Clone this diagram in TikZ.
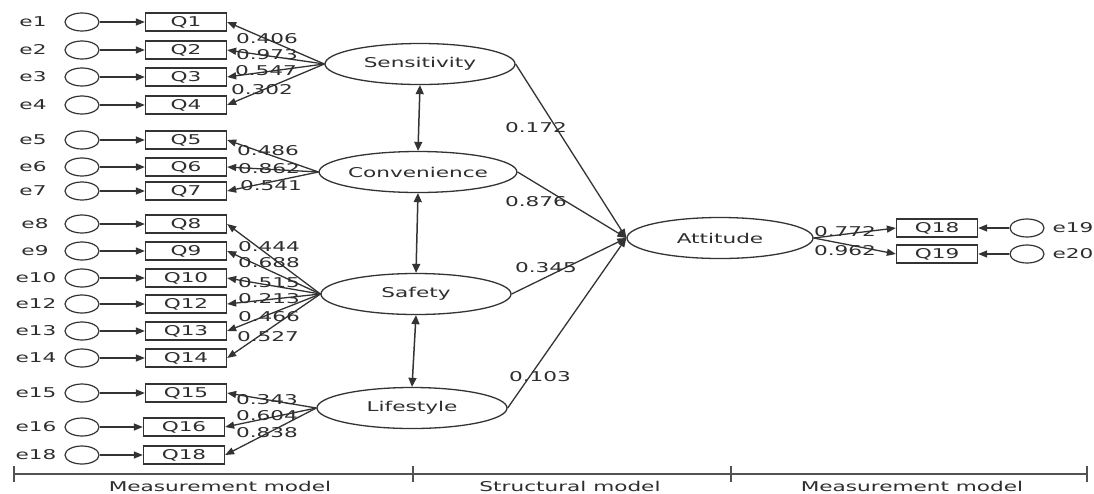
\documentclass[tikz,border=0pt]{standalone}
\usepackage{fontspec}
\setmainfont{DejaVu Sans}[FakeStretch=1.6]
\usetikzlibrary{arrows.meta,shapes.geometric}
\definecolor{ln}{HTML}{333333}
\definecolor{txt}{HTML}{2E2E2E}
\begin{document}
\begin{tikzpicture}[x=1pt,y=-1pt,
 every node/.style={font=\fontsize{13.5}{15}\selectfont, text=txt},
 latent/.style={ellipse, draw=ln, line width=1.3pt, minimum width=190pt, minimum height=41pt, inner sep=0pt},
 obs/.style={rectangle, draw=ln, line width=1.3pt, minimum width=81pt, minimum height=18pt, inner sep=0pt},
 err/.style={ellipse, draw=ln, line width=1.2pt, minimum width=34pt, minimum height=18pt, inner sep=0pt},
 arr/.style={draw=ln, line width=1.3pt, -{Triangle[length=9pt,width=7pt]}},
 dbl/.style={draw=ln, line width=1.5pt, {Triangle[length=9pt,width=8pt]}-{Triangle[length=9pt,width=8pt]}},
 lab/.style={inner sep=0pt},
 bar/.style={draw=ln!85, line width=1.6pt}
]
\useasboundingbox (0,0) rectangle (1094,493);

% latent variables
\node[latent] (sens) at (420,64) {Sensitivity};
\node[latent] (conv) at (418,172) {Convenience};
\node[latent] (safe) at (416,294) {Safety};
\node[latent] (life) at (412,408) {Lifestyle};
\node[latent, minimum width=186pt] (att) at (720,238) {Attitude};

% left indicators
\foreach \n/\bx/\y/\lx in {1/186/22/33, 2/186/50/33, 3/186/77/33, 4/186/105/33,
  5/186/140/33, 6/186/167/33, 7/186/191/33,
  8/186/224/35, 9/186/251/35, 10/186/278/36, 12/186/304/36, 13/186/331/36, 14/186/358/36,
  15/186/393/36, 16/184/427/36, 18/184/455/36}{
  \node[obs] (q\n) at (\bx,\y) {Q\n};
  \node[err] (e\n) at (82,\y) {};
  \node[lab] (le\n) at (\lx,\y) {e\n};
  \draw[arr] (e\n) -- (q\n);
}

% loadings
\foreach \q in {1,2,3,4}{\draw[arr] (sens.west) -- (q\q.east);}
\foreach \q in {5,6,7}{\draw[arr] (conv.west) -- (q\q.east);}
\foreach \q in {8,9,10,12,13,14}{\draw[arr] (safe.west) -- (q\q.east);}
\foreach \q in {15,16,18}{\draw[arr] (life.west) -- (q\q.east);}

\node[lab] (l1) at (267,39) {0.406};
\node[lab] (l2) at (267,55) {0.973};
\node[lab] (l3) at (266,71) {0.547};
\node[lab] (l4) at (262,90) {0.302};
\node[lab] (l5) at (268,151) {0.486};
\node[lab] (l6) at (269,169) {0.862};
\node[lab] (l7) at (271,186) {0.541};
\node[lab] (l8) at (269,247) {0.444};
\node[lab] (l9) at (269,263) {0.688};
\node[lab] (l10) at (269,283) {0.515};
\node[lab] (l12) at (269,299) {0.213};
\node[lab] (l13) at (269,317) {0.466};
\node[lab] (l14) at (268,337) {0.527};
\node[lab] (l15) at (267,400) {0.343};
\node[lab] (l16) at (267,416) {0.604};
\node[lab] (l18) at (267,433) {0.838};

% correlations
\draw[dbl] (sens.south) -- (conv.north);
\draw[dbl] (conv.south) -- (safe.north);
\draw[dbl] (safe.south) -- (life.north);

% structural paths
\draw[arr] (sens.east) -- (att.west);
\draw[arr] (conv.east) -- (att.west);
\draw[arr] (safe.east) -- (att.west);
\draw[arr] (life.east) -- (att.west);
\node[lab] (s1) at (536,128) {0.172};
\node[lab] (s2) at (536,202) {0.876};
\node[lab] (s3) at (546,268) {0.345};
\node[lab] (s4) at (540,377) {0.103};

% right indicators
\node[obs] (q18b) at (937,228) {Q18};
\node[obs] (q19) at (937,254) {Q19};
\node[err] (e19) at (1027,228) {};
\node[err] (e20) at (1027,254) {};
\node[lab] (le19) at (1073,228) {e19};
\node[lab] (le20) at (1073,254) {e20};
\draw[arr] (att.east) -- (q18b.west);
\draw[arr] (att.east) -- (q19.west);
\draw[arr] (e19) -- (q18b);
\draw[arr] (e20) -- (q19);
\node[lab] (r1) at (845,232) {0.772};
\node[lab] (r2) at (845,251) {0.962};

% bottom scale
\coordinate (t0) at (14,474);
\coordinate (t1) at (413,474);
\coordinate (t2) at (731,474);
\coordinate (t3) at (1087,474);
\draw[bar] (t0) -- (t3);
\foreach \t in {t0,t1,t2,t3}{\draw[bar] (\t) ++(0,-8) -- ++(0,16);}
\node[lab] (m1) at (220,486) {Measurement model};
\node[lab] (m2) at (570,486) {Structural model};
\node[lab] (m3) at (912,486) {Measurement model};
\end{tikzpicture}
\end{document}
